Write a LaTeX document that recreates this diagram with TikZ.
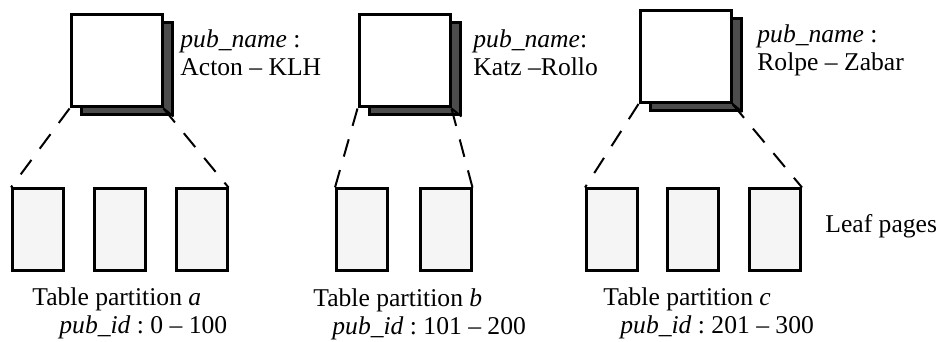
\documentclass[tikz,border=0pt]{standalone}
\usepackage{fontspec}
\setmainfont{Liberation Serif}
\frenchspacing
\begin{document}
\begin{tikzpicture}[x=0.5pt,y=-0.5pt,
		font=\fontsize{12.8}{14}\selectfont,
		rootpage/.style={draw,line width=1.5pt,fill=white,minimum width=45.5pt,minimum height=46pt,inner sep=0pt},
		rootshadow/.style={rootpage,fill=black!70},
		leafpage/.style={draw,line width=1.5pt,fill=black!4,minimum width=25.5pt,minimum height=40.5pt,inner sep=0pt},
		link/.style={line width=1pt,dash pattern=on 9pt off 7pt},
		rangelabel/.style={anchor=base west,align=left,inner sep=0pt}]
	\useasboundingbox (0,0) rectangle (943,342);
	% root pages with their shadows
	\node (shadowa) [rootshadow] at (126.5,69) {};
	\node (roota) [rootpage] at (116.5,61) {};
	\node (shadowb) [rootshadow] at (414.5,69) {};
	\node (rootb) [rootpage] at (404.5,61) {};
	\node (shadowc) [rootshadow] at (695.5,64.5) {};
	\node (rootc) [rootpage] at (685.5,56.5) {};
	\draw [line width=1pt] (roota.south east) -- (shadowa.south east);
	\draw [line width=1pt] (rootb.south east) -- (shadowb.south east);
	\draw [line width=1pt] (rootc.south east) -- (shadowc.south east);
	% leaf pages
	\node (a1) [leafpage] at (38,229.5) {};
	\node (a2) [leafpage] at (119.5,229.5) {};
	\node (a3) [leafpage] at (201.5,229.5) {};
	\node (b1) [leafpage] at (362,229.5) {};
	\node (b2) [leafpage] at (445.5,229.5) {};
	\node (c1) [leafpage] at (612,229.5) {};
	\node (c2) [leafpage] at (693,229.5) {};
	\node (c3) [leafpage] at (775,229.5) {};
	\draw [link] (roota.south west) -- (a1.north west);
	\draw [link] (roota.south east) -- (a3.north east);
	\draw [link] (rootb.south west) -- (b1.north west);
	\draw [link] (rootb.south east) -- (b2.north east);
	\draw [link] (rootc.south west) -- (c1.north west);
	\draw [link] (rootc.south east) -- (c3.north east);
	% labels (base = last line)
	\node (namea) [rangelabel] at (180,76) {\textit{pub\_name} :\\Acton -- KLH};
	\node (nameb) [rangelabel] at (473,76) {\textit{pub\_name}:\\Katz --Rollo};
	\node (namec) [rangelabel] at (757,71) {\textit{pub\_name} :\\Rolpe -- Zabar};
	\node (leafpages) [rangelabel] at (825,232) {Leaf pages};
	\node (parta) [rangelabel] at (32,333) {Table partition \textit{a}\\\hspace*{13.5pt}\textit{pub\_id} : 0 -- 100};
	\node (partb) [rangelabel] at (313,334) {Table partition \textit{b}\\\hspace*{9.5pt}\textit{pub\_id} : 101 -- 200};
	\node (partc) [rangelabel] at (603,333) {Table partition \textit{c}\\\hspace*{8.5pt}\textit{pub\_id} : 201 -- 300};
\end{tikzpicture}
\end{document}
